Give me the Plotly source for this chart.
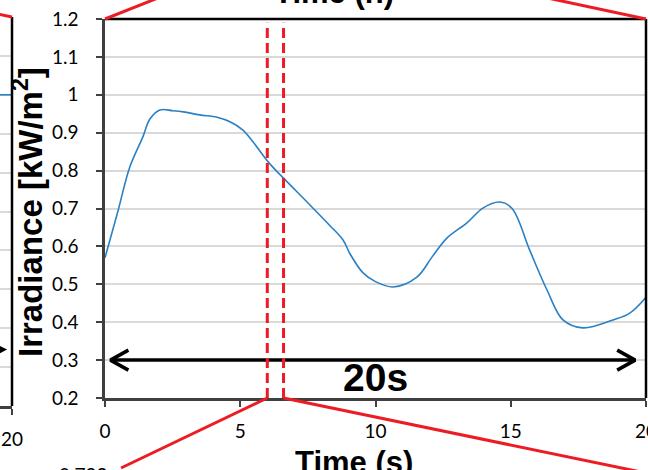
import plotly.graph_objects as go

W, H = 648, 470

# Irradiance over the 20 s window
time_s = [0.0, 0.46, 0.92, 1.4, 1.66, 2.03, 2.5, 2.9, 3.5, 4.14, 4.62, 5.1, 5.47,
          6.03, 6.6, 7.47, 8.3, 8.8, 9.06, 9.54, 10.0, 10.65, 11.53, 12.1, 12.64,
          13.38, 13.97, 14.6, 15.05, 15.7, 16.34, 16.93, 17.67, 18.78, 19.4, 20.0]
irradiance = [0.57, 0.688, 0.81, 0.889, 0.936, 0.96, 0.958, 0.955, 0.947, 0.941, 0.929,
              0.907, 0.876, 0.823, 0.78, 0.717, 0.656, 0.617, 0.58, 0.53, 0.507, 0.493,
              0.519, 0.573, 0.622, 0.662, 0.701, 0.717, 0.70, 0.59, 0.485, 0.406, 0.385,
              0.406, 0.424, 0.466]

x_ticks = [0, 5, 10, 15, 20]
x_tick_text = ["0", "5", "10", "15", "20"]
y_ticks = [0.2, 0.3, 0.4, 0.5, 0.6, 0.7, 0.8, 0.9, 1.0, 1.1, 1.2]
y_tick_text = ["0.2", "0.3", "0.4", "0.5", "0.6", "0.7", "0.8", "0.9", "1", "1.1", "1.2"]

# Sub-window marked by the dashed lines (s)
window_start, window_end = 6.0, 6.6

# Span arrow across the window
span_start, span_end = 0.2, 19.6
span_level = 0.3
span_label = "20s"

# Right edge of the neighbouring chart
left_time = [19.5, 20.0]
left_irr = [1.0, 1.0]
left_arrow_level = 0.345
left_x_ticks = [20]
left_x_tick_text = ["20"]
next_value_label = "0.792"

RED = "#ED1C24"
BLUE = "#2A80C4"
AXIS = "#404040"
GRID = "#D9D9D9"
TICK_FONT = dict(family="Lato", size=19, color="black")

# plot areas in pixels
MX0, MX1, MY0, MY1 = 105, 646, 19, 398
LX0, LX1, LY0, LY1 = 0, 12, 17, 406


def px(xp):
    return xp / W


def py(yp):
    return 1 - yp / H


x_range = [0, 20]
y_range = [0.2, 1.2]
ux = (MX1 - MX0) / (x_range[1] - x_range[0])
uy = (MY1 - MY0) / (y_range[1] - y_range[0])


def data_px(t, v):
    return MX0 + (t - x_range[0]) * ux, MY1 - (v - y_range[0]) * uy


fig = go.Figure()

fig.add_trace(go.Scatter(x=time_s, y=irradiance, mode="lines",
                         line=dict(color=BLUE, width=1.6, shape="spline", smoothing=1.0),
                         xaxis="x", yaxis="y", showlegend=False, hoverinfo="skip"))

# double-headed span arrow with open chevrons
arm_dx = 18 / ux
arm_dy = 10 / uy
ax_pts = [span_start, span_end, None,
          span_start + arm_dx, span_start, span_start + arm_dx, None,
          span_end - arm_dx, span_end, span_end - arm_dx]
ay_pts = [span_level, span_level, None,
          span_level + arm_dy, span_level, span_level - arm_dy, None,
          span_level + arm_dy, span_level, span_level - arm_dy]
fig.add_trace(go.Scatter(x=ax_pts, y=ay_pts, mode="lines",
                         line=dict(color="black", width=3.5),
                         xaxis="x", yaxis="y", showlegend=False, hoverinfo="skip"))

fig.add_trace(go.Scatter(x=left_time, y=left_irr, mode="lines",
                         line=dict(color=BLUE, width=1.6),
                         xaxis="x2", yaxis="y2", showlegend=False, hoverinfo="skip"))

shapes = []
# dashed window markers
for t in (window_start, window_end):
    shapes.append(dict(type="line", xref="x", yref="y", x0=t, x1=t, y0=0.2, y1=1.19,
                       line=dict(color=RED, width=3, dash="10px,5px")))

# black frame on top and right of main plot
shapes.append(dict(type="line", xref="x domain", yref="y domain", x0=0, x1=1, y0=1, y1=1,
                   line=dict(color="black", width=2.5)))
shapes.append(dict(type="line", xref="x domain", yref="y domain", x0=1, x1=1, y0=0, y1=1,
                   line=dict(color="black", width=2.5)))
# right frame of neighbouring chart
shapes.append(dict(type="line", xref="x2 domain", yref="y2 domain", x0=1, x1=1, y0=0, y1=1,
                   line=dict(color="black", width=2.5)))


# zoom connectors
def connector(p0, p1):
    shapes.append(dict(type="line", xref="paper", yref="paper",
                       x0=px(p0[0]), y0=py(p0[1]), x1=px(p1[0]), y1=py(p1[1]),
                       line=dict(color=RED, width=3)))


foot_a = data_px(window_start, 0.2)
foot_b = data_px(window_end, 0.2)
connector(foot_a, (121, 468))
connector(foot_b, (670, 478))
connector(data_px(0, 1.2), (178, -10))
connector(data_px(20, 1.2), (510, -10))
connector((LX1, LY0), (-12, 12))

annotations = [
    dict(text="<b>" + span_label + "</b>", x=10, y=0.255, xref="x", yref="y",
         showarrow=False, font=dict(family="Liberation Sans", size=39, color="black"),
         xanchor="center", yanchor="middle"),
    dict(text="<b>Irradiance [kW/m<sup>2</sup>]</b>", x=px(28), y=py(212),
         xref="paper", yref="paper", showarrow=False, textangle=-90,
         font=dict(family="Liberation Sans", size=33, color="black"),
         xanchor="center", yanchor="middle"),
    dict(text="<b>Time (s)</b>", x=px(354), y=py(443), xref="paper", yref="paper",
         showarrow=False, font=dict(family="Liberation Sans", size=31, color="black"),
         xanchor="center", yanchor="top"),
    dict(text="<b>Time (h)</b>", x=px(334), y=py(12), xref="paper", yref="paper",
         showarrow=False, font=dict(family="Liberation Sans", size=31, color="black"),
         xanchor="center", yanchor="bottom"),
    dict(text=next_value_label, x=px(110), y=py(461), xref="paper", yref="paper",
         showarrow=False, font=TICK_FONT, xanchor="right", yanchor="top"),
    dict(text="", x=19.82, y=left_arrow_level, xref="x2", yref="y2",
         ax=-40, ay=0, showarrow=True, arrowhead=2, arrowsize=1.2, arrowwidth=2,
         arrowcolor="black"),
]

fig.update_layout(
    width=W, height=H,
    margin=dict(l=0, r=0, t=0, b=0),
    paper_bgcolor="white", plot_bgcolor="white",
    shapes=shapes, annotations=annotations,
    xaxis=dict(domain=[px(MX0), px(MX1)], range=x_range, tickvals=x_ticks,
               ticktext=x_tick_text, showgrid=False, zeroline=False,
               showline=True, linecolor=AXIS, linewidth=2.5,
               ticks="outside", ticklen=6, tickwidth=1.5, tickcolor=AXIS,
               tickfont=TICK_FONT, ticklabelstandoff=8, ticklabeloverflow="allow",
               automargin=False, anchor="y"),
    yaxis=dict(domain=[py(MY1), py(MY0)], range=y_range, tickvals=y_ticks,
               ticktext=y_tick_text, showgrid=True, gridcolor=GRID, gridwidth=1.5,
               zeroline=False, showline=True, linecolor=AXIS, linewidth=2.5,
               ticks="outside", ticklen=6, tickwidth=1.5, tickcolor=AXIS,
               tickfont=TICK_FONT, ticklabelstandoff=14, automargin=False, anchor="x"),
    xaxis2=dict(domain=[px(LX0), px(LX1)], range=[19.56, 20.0], tickvals=left_x_ticks,
                ticktext=left_x_tick_text, showgrid=False, zeroline=False,
                showline=True, linecolor=AXIS, linewidth=2.5,
                ticks="outside", ticklen=6, tickwidth=1.5, tickcolor=AXIS,
                tickfont=TICK_FONT, ticklabelstandoff=8, ticklabeloverflow="allow",
                automargin=False, anchor="y2"),
    yaxis2=dict(domain=[py(LY1), py(LY0)], range=y_range, tickvals=y_ticks,
                showticklabels=False, showgrid=True, gridcolor=GRID, gridwidth=1.5,
                zeroline=False, showline=False, ticks="", automargin=False, anchor="x2"),
)

fig.write_html("out.html")
